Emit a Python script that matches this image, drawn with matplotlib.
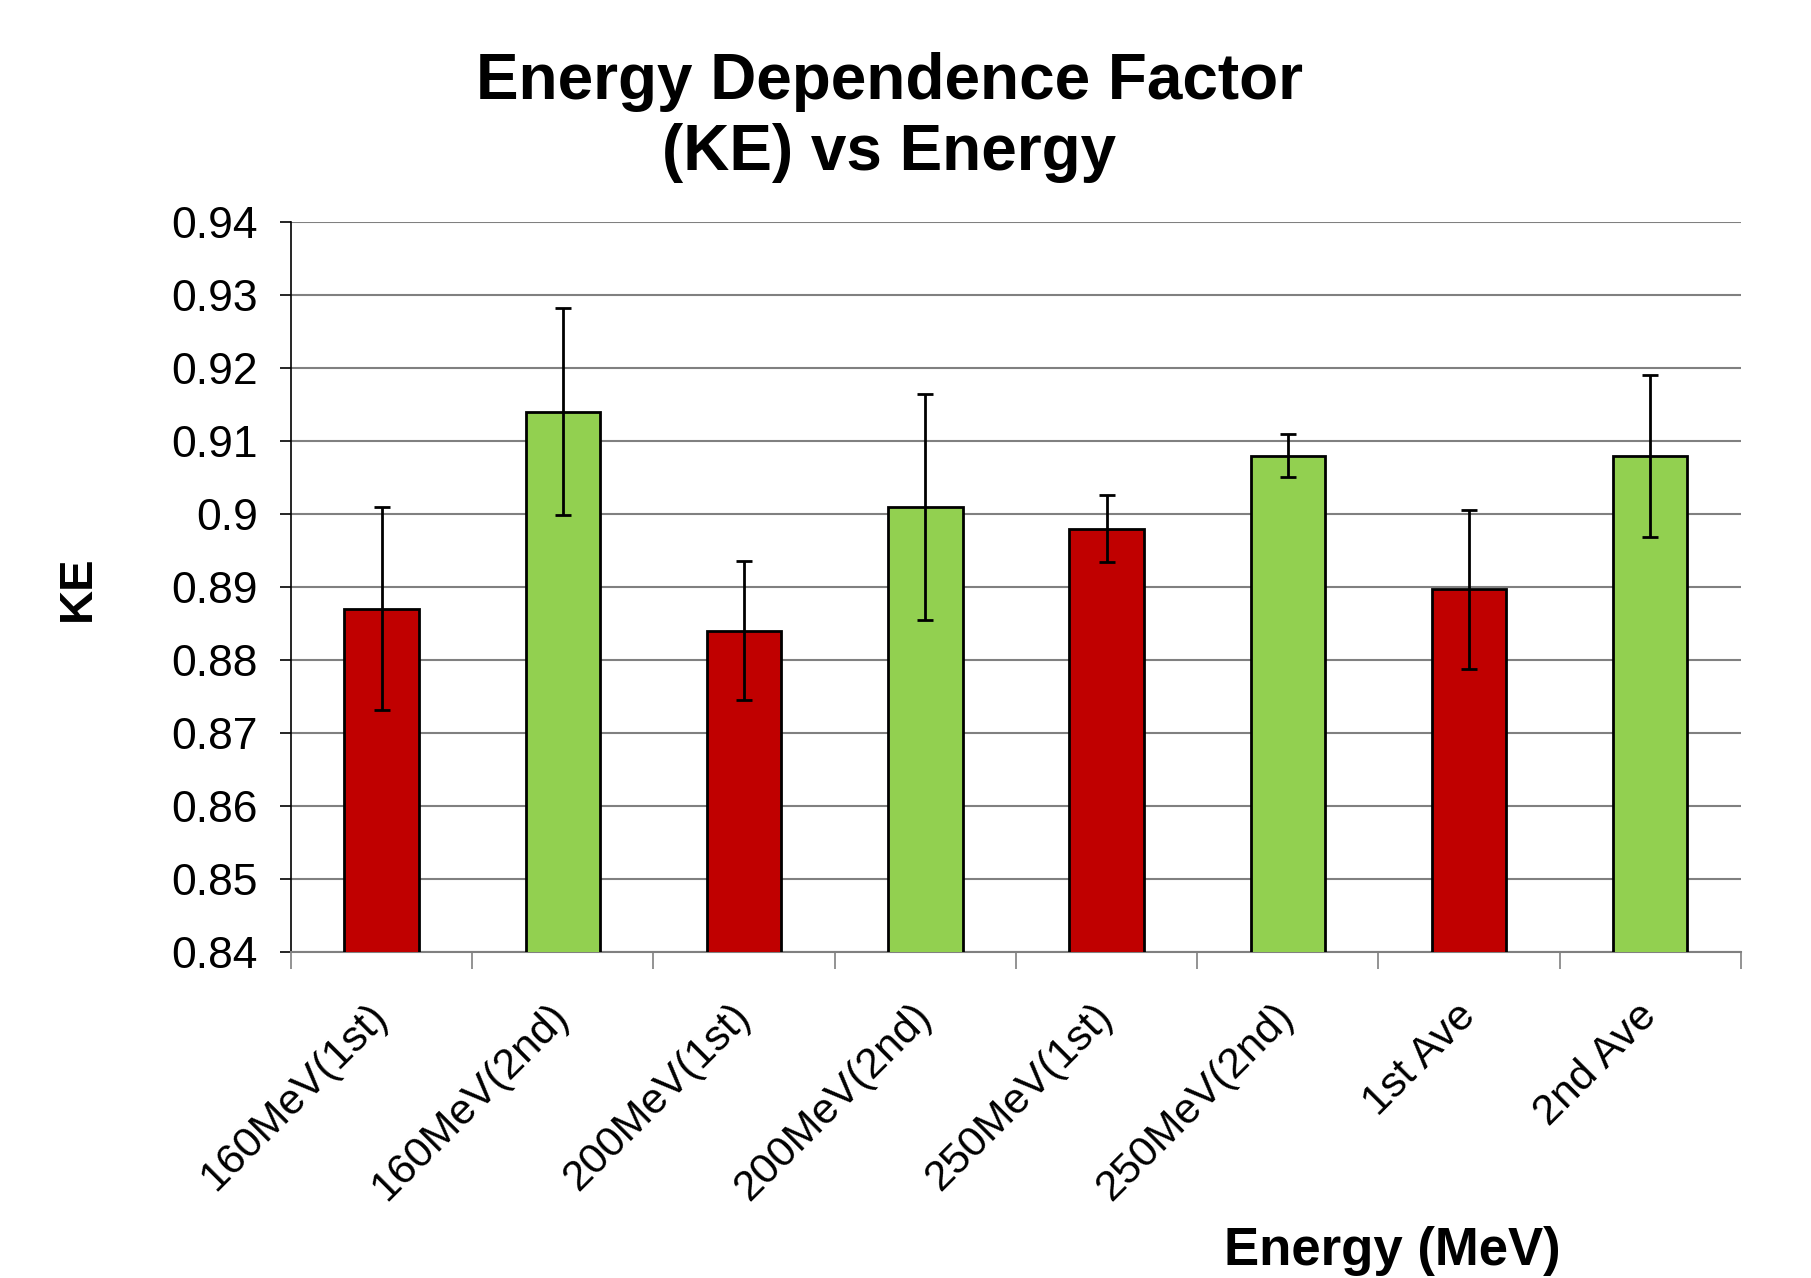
import numpy as np
import matplotlib
matplotlib.use("Agg")
import matplotlib.pyplot as plt

plt.rcParams['font.family'] = ['Liberation Sans', 'DejaVu Sans']

labels = ["160MeV(1st)", "160MeV(2nd)", "200MeV(1st)", "200MeV(2nd)",
          "250MeV(1st)", "250MeV(2nd)", "1st Ave", "2nd Ave"]
ke = [0.887, 0.914, 0.884, 0.901, 0.898, 0.908, 0.8897, 0.908]
err = [0.0139, 0.0142, 0.0095, 0.0155, 0.0046, 0.0029, 0.0109, 0.0111]
colors = ["#C00000", "#92D050"] * 4

fig = plt.figure(figsize=(18.11, 12.78), dpi=100)
ax = fig.add_axes([0.1607, 0.2551, 0.8006, 0.5712])

x = np.arange(len(labels))
ax.bar(x, ke, width=0.41, color=colors, edgecolor="black", linewidth=2,
       zorder=3)
ax.errorbar(x, ke, yerr=err, fmt="none", ecolor="black", elinewidth=2,
            capsize=6, capthick=2, zorder=4)

ax.set_xlim(-0.5, len(labels) - 0.5)
ax.set_ylim(0.84, 0.94)
ax.set_yticks(np.arange(0.84, 0.9401, 0.01))
ax.set_yticklabels(["0.84", "0.85", "0.86", "0.87", "0.88", "0.89", "0.9",
                    "0.91", "0.92", "0.93", "0.94"])
ax.yaxis.grid(True, color="#808080", linewidth=1.5, zorder=0)
ax.set_axisbelow(True)

ax.set_xticks(x)
ax.set_xticklabels(labels, rotation=45, ha="right", va="center",
                   rotation_mode="anchor", fontsize=31)
ax.tick_params(axis="x", which="major", length=0, pad=42)
ax.set_xticks(np.arange(-0.5, len(labels)), minor=True)
ax.tick_params(axis="x", which="minor", length=12, width=1.2,
               color="#808080")
ax.tick_params(axis="y", labelsize=32, length=8, width=1.2, pad=16)

for s in ["top", "right"]:
    ax.spines[s].set_visible(False)
ax.spines["bottom"].set_color("#808080")
ax.spines["bottom"].set_linewidth(1.5)
ax.spines["left"].set_linewidth(1.2)

fig.text(0.491, 0.908, "Energy Dependence Factor\n(KE) vs Energy",
         ha="center", va="center", fontsize=46, fontweight="bold",
         linespacing=1.22)
fig.text(0.043, 0.54, "KE", rotation=90, ha="center", va="center",
         fontsize=34, fontweight="bold")
fig.text(0.769, 0.021, "Energy (MeV)", ha="center", va="center",
         fontsize=38, fontweight="bold")

fig.savefig("out.png", dpi=100)
